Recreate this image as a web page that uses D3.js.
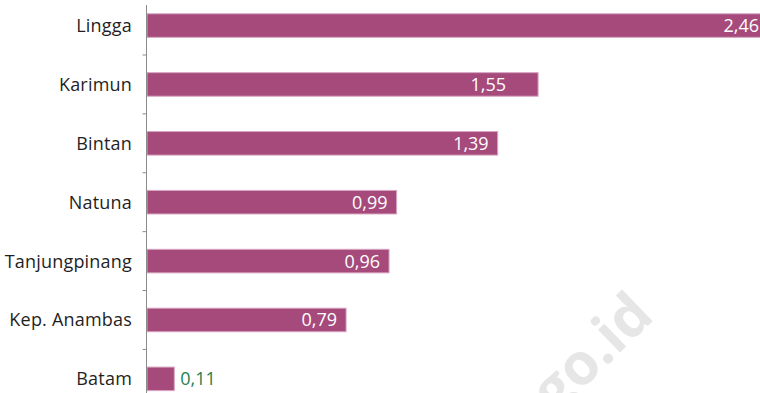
<!DOCTYPE html>
<html>
<head>
<meta charset="utf-8">
<script src="https://cdn.jsdelivr.net/npm/d3@7/dist/d3.min.js"></script>
<style>
  html, body { margin: 0; padding: 0; background: #fff; }
  svg { display: block; }
  text { font-family: "Open Sans", "Noto Sans", sans-serif; }
</style>
</head>
<body>
<svg id="chart" width="760" height="393"></svg>
<script>
// Kabupaten/kota in Kepulauan Riau and their values
const categories = ["Lingga", "Karimun", "Bintan", "Natuna", "Tanjungpinang", "Kep. Anambas", "Batam"];
const values = [2.46, 1.55, 1.39, 0.99, 0.96, 0.79, 0.11];
const valueLabels = ["2,46", "1,55", "1,39", "0,99", "0,96", "0,79", "0,11"];

const W = 760, H = 393;
const axisX = 146.5;
const svg = d3.select("#chart");

// Faint site watermark behind the bars
svg.append("text")
  .attr("transform", "translate(656,318) rotate(-44)")
  .attr("text-anchor", "end")
  .attr("font-family", "'Liberation Sans', Arial, sans-serif")
  .attr("font-weight", "bold")
  .attr("font-size", 58)
  .attr("fill", "#e6e6e6")
  .text("bps.go.id");

const x = d3.scaleLinear().domain([0, 2.46]).range([axisX, 768]);
const y = d3.scaleBand().domain(categories).range([-3.9, 408.3]).paddingInner(0.6).paddingOuter(0.3);

const rows = categories.map((c, i) => ({ c, v: values[i], label: valueLabels[i] }));

// Bars
svg.append("g").selectAll("rect")
  .data(rows).join("rect")
  .attr("x", axisX + 0.5)
  .attr("y", d => y(d.c))
  .attr("width", d => x(d.v) - axisX - 0.5)
  .attr("height", y.bandwidth())
  .attr("fill", "#a54a7b")
  .attr("stroke", "#d7a5c2")
  .attr("stroke-width", 1);

// Category axis: line, ticks between rows, labels
const axis = svg.append("g");
axis.append("line")
  .attr("x1", axisX).attr("x2", axisX)
  .attr("y1", 5).attr("y2", H)
  .attr("stroke", "#8c8c8c").attr("stroke-width", 1);

const between = categories.slice(1).map(c => y(c) - y.step() * y.paddingInner() / 2);
axis.selectAll("line.tick")
  .data(between).join("line")
  .attr("class", "tick")
  .attr("x1", axisX - 4).attr("x2", axisX)
  .attr("y1", d => d).attr("y2", d => d)
  .attr("stroke", "#8c8c8c").attr("stroke-width", 1);

axis.selectAll("text")
  .data(rows).join("text")
  .attr("x", 132)
  .attr("y", d => y(d.c) + y.bandwidth() / 2)
  .attr("dy", "0.36em")
  .attr("text-anchor", "end")
  .attr("font-size", 18)
  .attr("letter-spacing", 0.2)
  .attr("fill", "#1f1f1f")
  .text(d => d.c);

// Value labels: inside the bar end, or after it when the bar is too short
const inset = { "Karimun": 32 };
svg.append("g").selectAll("text")
  .data(rows).join("text")
  .attr("x", d => {
    const end = x(d.v);
    return end - axisX < 60 ? end + 6 : end - (inset[d.c] || 9);
  })
  .attr("y", d => y(d.c) + y.bandwidth() / 2)
  .attr("dy", "0.36em")
  .attr("text-anchor", d => x(d.v) - axisX < 60 ? "start" : "end")
  .attr("font-size", 18)
  .attr("fill", d => x(d.v) - axisX < 60 ? "#23824f" : "#ffffff")
  .text(d => d.label);
</script>
</body>
</html>
